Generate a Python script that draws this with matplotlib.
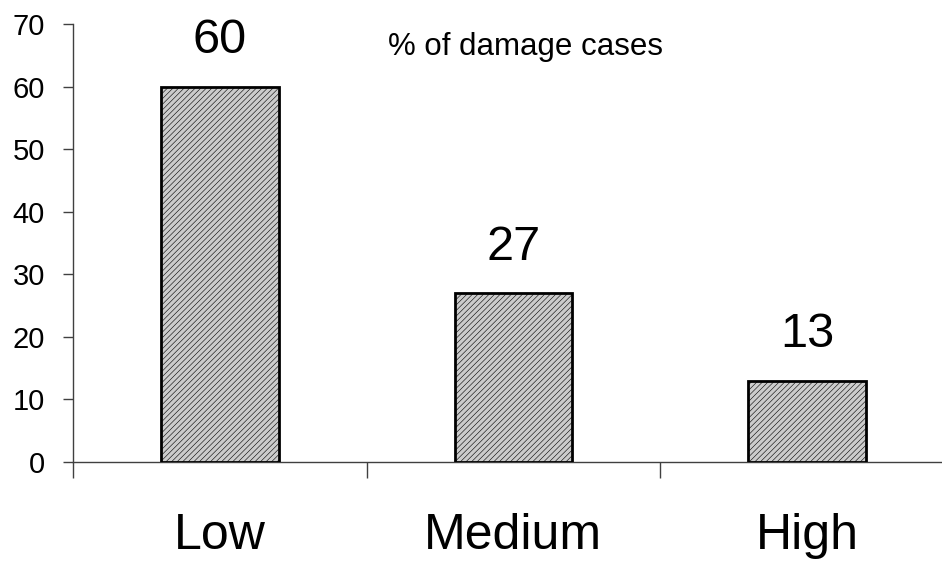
import matplotlib
matplotlib.use("Agg")
import matplotlib.pyplot as plt
from matplotlib.ticker import FixedLocator, NullFormatter

plt.rcParams['font.family'] = ['Liberation Sans', 'DejaVu Sans']
plt.rcParams['hatch.color'] = '#b4b4b4'
plt.rcParams['hatch.linewidth'] = 0.4

categories = ["Low", "Medium", "High"]
values = [60, 27, 13]
y_ticks = [0, 10, 20, 30, 40, 50, 60, 70]
annotation = "% of damage cases"

fig = plt.figure(figsize=(9.42, 5.65), dpi=100)
ax = fig.add_axes([73/942, 103/565, 1 - 73/942, 438/565])

x = list(range(len(categories)))
ax.bar(x, values, width=0.40, color='#cccccc', edgecolor='black', linewidth=2,
       hatch='//////', zorder=3)

for xi, v in zip(x, values):
    ax.annotate(str(v), (xi, v), xytext=(0, 24), textcoords='offset points',
                ha='center', va='baseline', fontsize=35)

ax.set_xlim(-0.5, 2.46)
ax.set_ylim(0, 70)
ax.set_yticks(y_ticks)
ax.tick_params(axis='y', direction='out', length=7.2, width=1, color='#404040',
               labelsize=21, pad=13)

ax.xaxis.set_major_locator(FixedLocator([-0.5, 0.5, 1.5]))
ax.xaxis.set_major_formatter(NullFormatter())
ax.xaxis.set_minor_locator(FixedLocator(x))
ax.set_xticklabels(categories, minor=True)
ax.tick_params(axis='x', which='major', direction='out', length=11.5, width=1, color='#404040')
ax.tick_params(axis='x', which='minor', length=0, labelsize=36, pad=37)

for s in ['top', 'right']:
    ax.spines[s].set_visible(False)
for s in ['left', 'bottom']:
    ax.spines[s].set_color('#404040')
    ax.spines[s].set_linewidth(1)

ax.text(0.573, 65.0, annotation, ha='left', va='baseline', fontsize=22.5)

fig.savefig("out.png", dpi=100)
